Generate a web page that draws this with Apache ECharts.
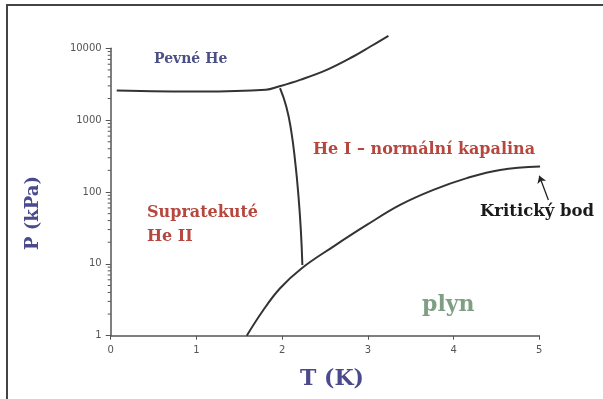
<!DOCTYPE html>
<html>
<head>
<meta charset="utf-8">
<script src="https://cdn.jsdelivr.net/npm/echarts@6/dist/echarts.min.js"></script>
<style>html,body{margin:0;padding:0;background:#fff;}#c{width:603px;height:399px;}</style>
</head>
<body>
<div id="c"></div>
<script>
// Phase boundaries of helium-4 (T in K, P in kPa)
const meltingCurve = [[0.07,2585],[1.04,2500],[1.81,2644],[1.96,2940],[2.21,3640],[2.52,5010],[2.83,7690],[3.03,10590],[3.24,14930]];
const lambdaLine = [[1.975,2790],[2.048,1546],[2.104,732],[2.154,252],[2.191,86.3],[2.218,29.7],[2.236,9.66]];
const vaporCurve = [[1.587,1],[1.781,2.28],[1.976,4.57],[2.229,8.69],[2.597,17.4],[2.987,34.8],[3.376,66.1],[3.764,107],[4.154,156],[4.543,203],[5.009,226]];
const criticalArrow = [[5.106,77.6],[5.0,168]];
const xTicks = [0,1,2,3,4,5];
const yTicks = [1,10,100,1000,10000];
const yMinorTicks = [2,3,4,5,6,7,8,9,20,30,40,50,60,70,80,90,200,300,400,500,600,700,800,900,2000,3000,4000,5000,6000,7000,8000,9000];

const chart = echarts.init(document.getElementById('c'));
const serif = '"DejaVu Serif","Liberation Serif",serif';
const lineStyle = {color:'#333', width:2};
chart.setOption({
  backgroundColor:'#fff',
  animation:false,
  grid:{left:110.7, right:63.7, top:48.3, bottom:63.3},
  xAxis:{
    type:'value', min:xTicks[0], max:xTicks[xTicks.length-1], interval:1,
    name:'T (K)', nameLocation:'middle', nameGap:33,
    nameTextStyle:{fontFamily:serif, fontWeight:'bold', fontSize:22, color:'#4a4a8c', padding:[0,0,0,14]},
    axisLine:{lineStyle:{color:'#555', width:1.5}},
    axisTick:{show:true, length:4, lineStyle:{color:'#555'}},
    axisLabel:{fontFamily:'"DejaVu Sans",sans-serif', fontSize:10, color:'#555', margin:10},
    splitLine:{show:false}
  },
  yAxis:{
    type:'log', logBase:10, min:yTicks[0], max:yTicks[yTicks.length-1],
    axisLine:{show:true, lineStyle:{color:'#555', width:1.5}},
    axisTick:{show:true, length:5, lineStyle:{color:'#555'}},
    axisLabel:{fontFamily:'"DejaVu Sans",sans-serif', fontSize:10, color:'#555', margin:9,
      formatter:function(v){return String(Math.round(v));}},
    splitLine:{show:false}
  },
  graphic:[
    {type:'rect', shape:{x:7, y:5, width:700, height:500}, style:{fill:null, stroke:'#444', lineWidth:2}, silent:true},
    {type:'text', x:33, y:213, rotation:Math.PI/2, style:{text:'P (kPa)', font:'bold 18px '+serif, fill:'#4a4a8c', align:'center', verticalAlign:'middle'}},
    {type:'text', x:154, y:59, style:{text:'Pevné He', font:'bold 14px '+serif, fill:'#4b4f86', verticalAlign:'middle'}},
    {type:'text', x:313, y:150, style:{text:'He I – normální kapalina', font:'bold 16px '+serif, fill:'#b5473f', verticalAlign:'middle'}},
    {type:'text', x:147, y:213, style:{text:'Supratekuté', font:'bold 16px '+serif, fill:'#b5473f', verticalAlign:'middle'}},
    {type:'text', x:147, y:237, style:{text:'He II', font:'bold 16px '+serif, fill:'#b5473f', verticalAlign:'middle'}},
    {type:'text', x:480, y:212, style:{text:'Kritický bod', font:'bold 16.5px '+serif, fill:'#1a1a1a', verticalAlign:'middle'}},
    {type:'text', x:422, y:305, style:{text:'plyn', font:'bold 22px '+serif, fill:'#7f9f84', verticalAlign:'middle'}}
  ],
  series:[
    {type:'line', data:meltingCurve, smooth:0.4, showSymbol:false, clip:false, lineStyle:lineStyle},
    {type:'line', data:lambdaLine, smooth:0.5, showSymbol:false, clip:false, lineStyle:lineStyle},
    {type:'line', data:vaporCurve, smooth:0.4, showSymbol:false, clip:false, lineStyle:lineStyle},
    {type:'lines', coordinateSystem:'cartesian2d', clip:false, symbol:['none','arrow'], symbolSize:7,
      lineStyle:{color:'#222', width:1.3, opacity:1},
      data:[{coords:criticalArrow}]},
    {type:'custom', clip:false, silent:true, data:yMinorTicks.map(v=>[0,v]),
      renderItem:function(params, api){
        const p = api.coord([api.value(0), api.value(1)]);
        return {type:'line', shape:{x1:p[0]-3, y1:p[1], x2:p[0], y2:p[1]}, style:{stroke:'#555', lineWidth:1}};
      }}
  ]
});
</script>
</body>
</html>
